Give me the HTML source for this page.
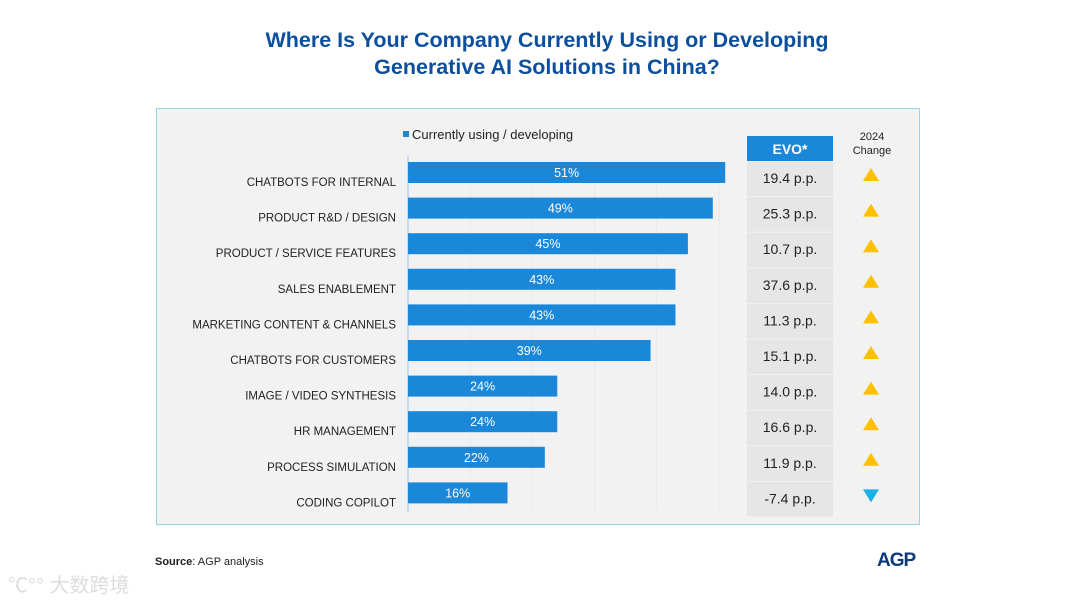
<!DOCTYPE html>
<html><head><meta charset="utf-8"><style>
body{margin:0;width:1080px;height:603px;background:#fff;font-family:"Liberation Sans",sans-serif;position:relative;overflow:hidden}
.t{position:absolute;white-space:nowrap}
</style></head><body>
<div class="t" style="left:0;width:1094px;top:27px;text-align:center;color:#0d4f9c;font-weight:bold;font-size:21.5px;line-height:27px">Where Is Your Company Currently Using or Developing<br>Generative AI Solutions in China?</div>
<svg id="c" width="1080" height="603" style="position:absolute;left:0;top:0"></svg>
<div class="t" style="left:155px;top:556px;font-size:11px;color:#222"><b>Source</b>: AGP analysis</div>
<div class="t" style="left:877px;top:550px;font-size:19px;font-weight:bold;color:#0d3a7a;letter-spacing:-1px">AGP</div>
<div class="t" style="left:8px;top:569px;font-size:20px;color:#ddd;font-family:'Liberation Sans','Noto Sans CJK SC',sans-serif">℃°° 大数跨境</div>
<script>
const categories=["CHATBOTS FOR INTERNAL","PRODUCT R&D / DESIGN","PRODUCT / SERVICE FEATURES","SALES ENABLEMENT","MARKETING CONTENT & CHANNELS","CHATBOTS FOR CUSTOMERS","IMAGE / VIDEO SYNTHESIS","HR MANAGEMENT","PROCESS SIMULATION","CODING COPILOT"];
const values=[51,49,45,43,43,39,24,24,22,16];
const evo=[19.4,25.3,10.7,37.6,11.3,15.1,14.0,16.6,11.9,-7.4];
const NS="http://www.w3.org/2000/svg",svg=document.getElementById('c');
function mk(t,a,txt){const e=document.createElementNS(NS,t);for(const k in a)e.setAttribute(k,a[k]);if(txt!=null)e.textContent=txt;svg.appendChild(e);return e;}
const x=v=>408+v*6.22, y=i=>161+i*35.6;
let e=mk('rect',{x:156.5,y:108.5,width:763,height:416,fill:'#f2f2f2',stroke:'#9dd3ea'});

for(let g=10;g<=50;g+=10){e=mk('line',{x1:x(g),x2:x(g),y1:158,y2:510,stroke:'#e8e8e8'});
}
e=mk('line',{x1:408,x2:408,y1:156,y2:512,stroke:'#9dc7ea'});

e=mk('rect',{x:403,y:131,width:6,height:6,fill:'#1a87d8'});

e=mk('text',{x:412,y:139,'font-size':13,fill:'#222'},'Currently using / developing');

e=mk('rect',{x:747,y:136,width:86,height:25,fill:'#1a87d8'});

e=mk('text',{x:790,y:154,'font-size':14,'font-weight':'bold',fill:'#fff','text-anchor':'middle'},'EVO*');

e=mk('text',{x:872,y:140,'font-size':11,fill:'#222','text-anchor':'middle'},'2024');

e=mk('text',{x:872,y:154,'font-size':11,fill:'#222','text-anchor':'middle'},'Change');

categories.forEach((c,i)=>{
 const yy=y(i);
 e=mk('rect',{x:408,y:yy+1,width:x(values[i])-408,height:21,fill:'#1a87d8'});
 
 e=mk('text',{x:(408+x(values[i]))/2,y:yy+16,'font-size':12.5,fill:'#fff','text-anchor':'middle'},values[i]+'%');
 
 e=mk('text',{x:396,y:yy+25,'font-size':11.5,fill:'#222','text-anchor':'end'},c);
 
 e=mk('rect',{x:747,y:yy+0.5,width:86,height:34.6,fill:'#e6e6e6'});
 
 e=mk('text',{x:790,y:yy+22,'font-size':14,fill:'#222','text-anchor':'middle'},evo[i].toFixed(1)+' p.p.');
 
 const cx=871,cy=yy+14;
 e=mk('polygon',{points:evo[i]>=0?`${cx-8},${cy+6} ${cx+8},${cy+6} ${cx},${cy-7}`:`${cx-8},${cy-6} ${cx+8},${cy-6} ${cx},${cy+7}`,fill:evo[i]>=0?'#ffc000':'#1ab0e8'});
 
});
</script>
</body></html>
